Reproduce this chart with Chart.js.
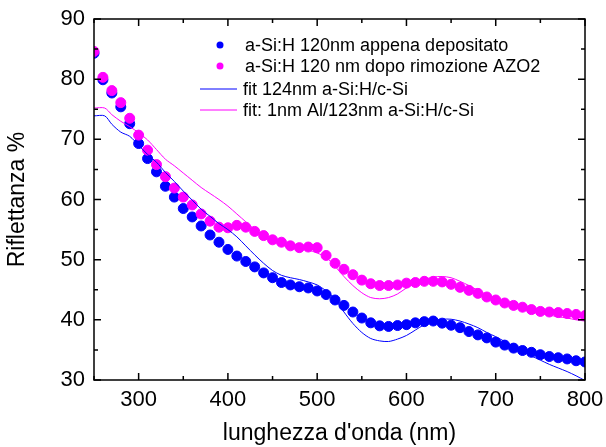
<!DOCTYPE html>
<html>
<head>
<meta charset="utf-8">
<script src="https://cdn.jsdelivr.net/npm/chart.js@4/dist/chart.umd.min.js"></script>
<style>
  html, body { margin: 0; padding: 0; background: #fff; }
  #wrap { width: 606px; height: 447px; }
</style>
</head>
<body>
<div id="wrap"><canvas id="reflChart"></canvas></div>
<script>
// measured points, every 10 nm
const wavelengths = [250,260,270,280,290,300,310,320,330,340,350,360,370,380,390,400,410,420,430,440,
  450,460,470,480,490,500,510,520,530,540,550,560,570,580,590,600,610,620,630,640,
  650,660,670,680,690,700,710,720,730,740,750,760,770,780,790,800];

const asDeposited = [84.3,79.9,77.7,75.4,72.6,69.3,66.8,64.6,62.2,60.4,58.5,57.1,55.6,54.1,52.9,51.7,50.6,49.7,48.8,47.8,
  47.0,46.2,45.8,45.5,45.3,44.8,44.2,43.3,42.4,41.3,40.3,39.5,39.0,38.9,39.05,39.2,39.5,39.7,39.8,39.45,
  39.1,38.7,38.05,37.5,37.0,36.3,35.8,35.3,34.9,34.6,34.2,33.9,33.7,33.5,33.2,33.0];

const afterAZO = [84.6,80.3,78.1,76.1,73.5,70.7,68.2,65.8,63.8,61.9,60.4,59.1,57.6,56.4,55.4,55.3,55.7,55.4,54.7,54.0,
  53.3,52.9,52.3,52.0,52.1,52.0,50.7,49.4,48.4,47.5,46.6,46.0,45.7,45.7,45.8,46.1,46.2,46.4,46.4,46.3,
  45.9,45.4,44.9,44.4,43.8,43.3,42.8,42.4,42.1,41.7,41.4,41.3,41.2,41.05,40.9,40.7];

// fit curves
const fitX = [250,262,270,280,290,300,310,320,330,340,350,360,370,380,390,400,410,420,430,440,
  450,460,470,480,490,500,510,520,530,540,550,560,570,580,590,600,610,620,630,640,
  650,660,670,680,690,700,710,720,730,740,750,760,770,780,790,800];

const fit124 = [73.9,73.9,72.5,71.2,70.5,69.0,67.5,66.2,64.5,63.0,61.4,59.9,58.4,57.2,56.0,55.0,53.8,52.3,50.8,49.4,
  48.2,47.4,47.0,46.7,46.3,45.8,44.8,43.4,41.3,39.4,37.9,36.9,36.5,36.4,36.8,37.4,38.3,39.2,39.8,40.1,
  40.1,39.8,39.3,38.7,37.9,37.2,36.4,35.6,34.8,34.0,33.3,32.6,32.0,31.4,30.7,29.9];

const fitAl = [75.2,75.2,74.1,73.0,72.1,71.1,69.9,68.3,66.7,65.6,64.4,63.2,62.0,61.0,60.0,58.9,57.6,56.3,55.0,53.8,
  53.0,52.6,52.2,51.9,51.6,51.1,50.4,48.9,47.2,45.7,44.5,43.7,43.5,43.7,44.3,45.3,46.0,46.7,47.1,47.2,
  47.0,46.4,45.7,44.9,44.2,43.6,43.0,42.5,42.0,41.5,41.1,40.8,40.5,40.3,40.0,39.8];

const xTicks = [300,400,500,600,700,800];
const yTicks = [30,40,50,60,70,80,90];

const labels = [
  'a-Si:H 120nm appena depositato',
  'a-Si:H 120 nm dopo rimozione AZO2',
  'fit 124nm a-Si:H/c-Si',
  'fit: 1nm Al/123nm a-Si:H/c-Si'
];

const BLUE = '#0000ff';
const MAGENTA = '#ff00ff';
const FONT = 'Liberation Sans, Arial, sans-serif';

const pairs = (xs, ys) => xs.map((x, i) => ({ x: x, y: ys[i] }));

// box around plot with inward ticks
const framePlugin = {
    id: 'frame',
    afterDatasetsDraw(chart) {
        const { ctx, chartArea: a, scales } = chart;
        const xs = scales.x, ys = scales.y;
        ctx.save();
        ctx.strokeStyle = '#000';
        ctx.lineWidth = 1.5;
        ctx.strokeRect(a.left, a.top, a.right - a.left, a.bottom - a.top);
        ctx.beginPath();
        for (let v = 250; v <= 800; v += 50) {
            const px = xs.getPixelForValue(v);
            const len = v % 100 === 0 ? 7 : 4;
            ctx.moveTo(px, a.bottom); ctx.lineTo(px, a.bottom - len);
            ctx.moveTo(px, a.top); ctx.lineTo(px, a.top + len);
        }
        for (let v = 30; v <= 90; v += 5) {
            const py = ys.getPixelForValue(v);
            const len = v % 10 === 0 ? 7 : 4;
            ctx.moveTo(a.left, py); ctx.lineTo(a.left + len, py);
            ctx.moveTo(a.right, py); ctx.lineTo(a.right - len, py);
        }
        ctx.stroke();
        ctx.restore();
    }
};

// legend drawn inside the plot
const legendPlugin = {
    id: 'innerLegend',
    afterDatasetsDraw(chart) {
        const ctx = chart.ctx;
        const sets = chart.data.datasets;
        const rowY = [45, 66, 89, 110];
        ctx.save();
        ctx.font = '18px ' + FONT;
        ctx.textBaseline = 'middle';
        sets.forEach((ds, i) => {
            const y = rowY[i];
            if (ds.showLine) {
                ctx.strokeStyle = ds.borderColor;
                ctx.lineWidth = 1;
                ctx.beginPath();
                ctx.moveTo(200, y); ctx.lineTo(237, y);
                ctx.stroke();
            } else {
                ctx.fillStyle = ds.backgroundColor;
                ctx.beginPath();
                ctx.arc(220, y, 3.5, 0, Math.PI * 2);
                ctx.fill();
            }
            ctx.fillStyle = '#000';
            ctx.fillText(ds.label, ds.showLine ? 243 : 245, y + 1);
        });
        ctx.restore();
    }
};

new Chart(document.getElementById('reflChart'), {
    type: 'scatter',
    data: {
        datasets: [
            {
                label: labels[0],
                data: pairs(wavelengths, asDeposited),
                backgroundColor: BLUE,
                borderColor: BLUE,
                pointRadius: 5,
                showLine: false,
                order: 2
            },
            {
                label: labels[1],
                data: pairs(wavelengths, afterAZO),
                backgroundColor: MAGENTA,
                borderColor: MAGENTA,
                pointRadius: 5,
                showLine: false,
                order: 1
            },
            {
                label: labels[2],
                data: pairs(fitX, fit124),
                borderColor: BLUE,
                backgroundColor: BLUE,
                borderWidth: 1,
                pointRadius: 0,
                showLine: true,
                tension: 0.3,
                order: 0
            },
            {
                label: labels[3],
                data: pairs(fitX, fitAl),
                borderColor: MAGENTA,
                backgroundColor: MAGENTA,
                borderWidth: 1,
                pointRadius: 0,
                showLine: true,
                tension: 0.3,
                order: 0
            }
        ]
    },
    options: {
        responsive: true,
        maintainAspectRatio: false,
        animation: false,
        layout: { padding: { left: 0, top: 19, right: 21, bottom: 0 } },
        plugins: {
            legend: { display: false },
            tooltip: { enabled: false }
        },
        scales: {
            x: {
                type: 'linear',
                min: 250,
                max: 800,
                afterBuildTicks: s => { s.ticks = xTicks.map(v => ({ value: v })); },
                afterFit: s => { s.height = 67; s.paddingLeft = 0; s.paddingRight = 0; },
                grid: { display: false, drawTicks: false },
                border: { display: false },
                ticks: {
                    color: '#000',
                    padding: 7,
                    maxRotation: 0,
                    font: { size: 22, family: FONT }
                },
                title: {
                    display: true,
                    text: "lunghezza d'onda (nm)",
                    color: '#000',
                    font: { size: 23, family: FONT },
                    padding: { top: 8, bottom: 0 }
                }
            },
            y: {
                type: 'linear',
                min: 30,
                max: 90,
                afterBuildTicks: s => { s.ticks = yTicks.map(v => ({ value: v })); },
                afterFit: s => { s.width = 94; s.paddingTop = 0; s.paddingBottom = 0; },
                grid: { display: false, drawTicks: false },
                border: { display: false },
                ticks: {
                    color: '#000',
                    padding: 9,
                    font: { size: 22, family: FONT }
                },
                title: {
                    display: true,
                    text: 'Riflettanza %',
                    color: '#000',
                    font: { size: 23, family: FONT },
                    padding: { top: 4, bottom: 8 }
                }
            }
        }
    },
    plugins: [framePlugin, legendPlugin]
});
</script>
</body>
</html>
